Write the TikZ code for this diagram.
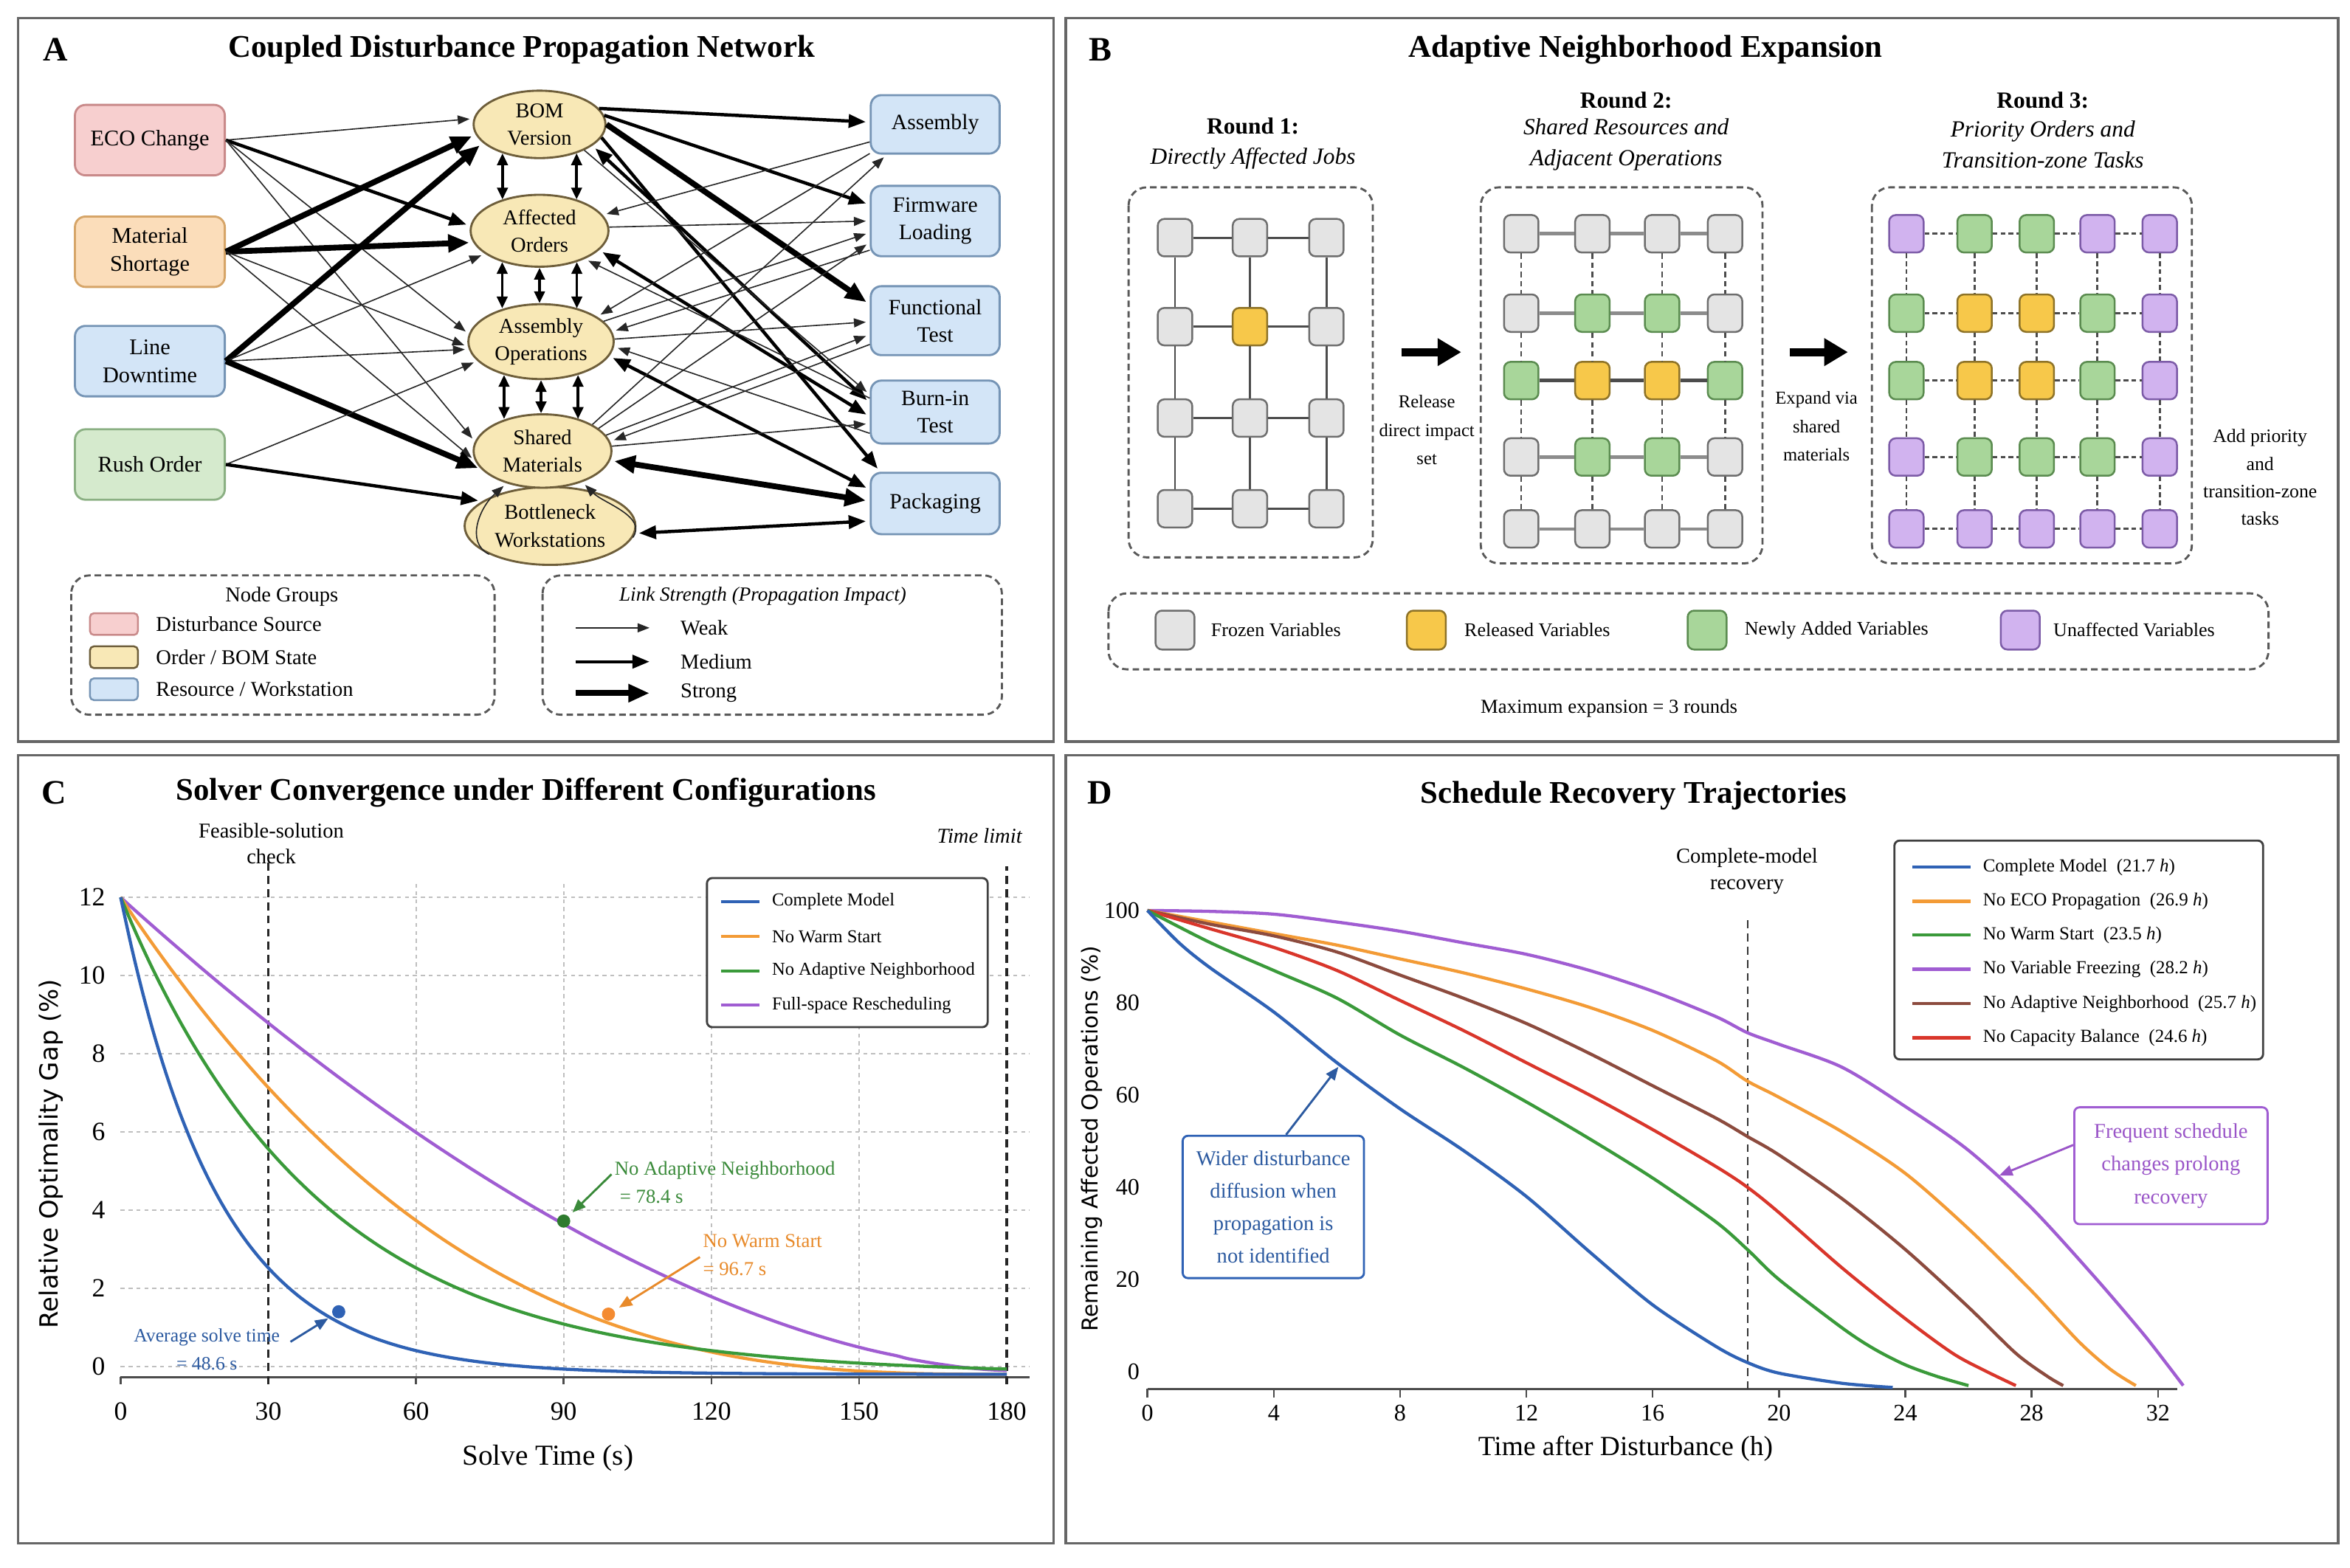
\documentclass[tikz,border=0pt]{standalone}
\usepackage{fontspec}
\setmainfont{Liberation Serif}
\newfontfamily\sansf{DejaVu Sans}
\usetikzlibrary{shapes.geometric,arrows.meta,calc}
\newcommand{\fsz}[2]{\fontsize{#1}{#2}\selectfont}
% panel A colours
\definecolor{ecoF}{HTML}{F7CFCF}\definecolor{ecoD}{HTML}{C98A8A}
\definecolor{matF}{HTML}{FBDDBA}\definecolor{matD}{HTML}{D6A568}
\definecolor{resF}{HTML}{D3E5F7}\definecolor{resD}{HTML}{7594B5}
\definecolor{rushF}{HTML}{D5EACD}\definecolor{rushD}{HTML}{8BB083}
\definecolor{ellF}{HTML}{F8E8B6}\definecolor{ellD}{HTML}{6E5E3A}
% panel B colours
\definecolor{fzF}{HTML}{E4E4E4}\definecolor{fzD}{HTML}{6E6E6E}
\definecolor{rlF}{HTML}{F7C84A}\definecolor{rlD}{HTML}{8E7328}
\definecolor{naF}{HTML}{A8D69A}\definecolor{naD}{HTML}{5B8C50}
\definecolor{uaF}{HTML}{D1B3EF}\definecolor{uaD}{HTML}{7D5CA8}
% plot colours
\definecolor{cBlue}{HTML}{2F62B5}\definecolor{cOrange}{HTML}{F39B36}
\definecolor{cGreen}{HTML}{3A9A3A}\definecolor{cPurple}{HTML}{A05DD2}
\definecolor{cBrown}{HTML}{8C4B3E}\definecolor{cRed}{HTML}{D9362B}
\definecolor{tBlue}{HTML}{2C5AA0}\definecolor{tGreen}{HTML}{3A8A3A}
\definecolor{tOrange}{HTML}{E88A2A}\definecolor{tPurple}{HTML}{9A55C8}
\tikzset{
 panel/.style={draw=black!60, line width=1pt},
 ptitle/.style={font=\fsz{12}{14}\bfseries},
 pletter/.style={font=\fsz{13}{15}\bfseries},
 srcbox/.style={draw=#1D, fill=#1F, rounded corners=4pt, line width=0.8pt, minimum width=2cm, minimum height=0.94cm, align=center, inner sep=1pt, font=\fsz{8.5}{10.6}},
 resbox/.style={draw=resD, fill=resF, rounded corners=4pt, line width=0.8pt, minimum width=1.72cm, align=center, inner sep=1pt, font=\fsz{8.3}{10.4}},
 stnode/.style={ellipse, draw=ellD, fill=ellF, line width=0.8pt, inner sep=0pt, align=center, font=\fsz{8}{10.4}},
 lkweak/.style={-{Triangle[length=4.5pt,width=3.4pt]}, line width=0.45pt, draw=black!85, shorten >=1.5pt},
 lkmed/.style={-{Triangle[length=6.5pt,width=5pt]}, line width=1.25pt, shorten >=1.5pt},
 lkstrong/.style={-{Triangle[length=8pt,width=6.5pt]}, line width=2.2pt, shorten >=1.5pt},
 lkmedd/.style={lkmed, {Triangle[length=6.5pt,width=5pt]}-{Triangle[length=6.5pt,width=5pt]}, shorten <=1.5pt},
 lkstrongd/.style={lkstrong, {Triangle[length=8pt,width=6.5pt]}-{Triangle[length=8pt,width=6.5pt]}, shorten <=1.5pt},
 vdbl/.style={{Triangle[length=4.5pt,width=4pt]}-{Triangle[length=4.5pt,width=4pt]}, line width=1pt},
 dashbox/.style={draw=black!65, line width=0.8pt, dash pattern=on 2.5pt off 1.5pt, rounded corners=7pt},
 legtxt/.style={font=\fsz{8}{9.6}, inner sep=1pt},
 vn/.style={draw=#1D, fill=#1F, rounded corners=2.5pt, line width=0.7pt, minimum width=0.46cm, minimum height=0.5cm, inner sep=0pt},
 rtitle/.style={font=\fsz{8.8}{10.5}\bfseries},
 rsub/.style={font=\fsz{8.8}{11.8}\itshape, align=center},
 smalltxt/.style={font=\fsz{6.9}{10.8}, align=center},
 btxt/.style={font=\fsz{7.3}{9}, inner sep=1pt},
 g1/.style={draw=black!70, line width=0.8pt},
 g2h/.style={draw=black!45, line width=1.3pt},
 g2v/.style={draw=black!70, line width=0.7pt, dash pattern=on 2pt off 1.5pt},
 g3/.style={draw=black!70, line width=0.8pt, dash pattern=on 1.8pt off 1.2pt},
 bigarr/.style={-{Triangle[length=9pt,width=10pt]}, line width=3.2pt},
 cgrid/.style={draw=black!25, line width=0.5pt, dash pattern=on 1.5pt off 1.5pt},
 ctick/.style={font=\fsz{10}{12}, inner sep=1pt},
 dtick/.style={font=\fsz{9}{11}, inner sep=1pt},
 cl/.style={line width=1.2pt, line join=round},
 dotn/.style={circle, inner sep=0pt, minimum size=5pt},
 legbox/.style={draw=black!75, line width=0.8pt, rounded corners=2pt, fill=white},
 legc/.style={font=\fsz{6.9}{8}, inner sep=1pt},
 annarrow/.style={-{Triangle[length=5pt,width=4pt]}, line width=0.8pt},
}
\newcommand{\gridrow}[4]{\foreach \xx/\vs [count=\c] in {#4} {\node[vn=\vs] (#1\c-#2) at (\xx,#3) {};}}
\begin{document}
\begin{tikzpicture}[x=0.02cm,y=-0.02cm]
\useasboundingbox (0,0) rectangle (1568,1046);
\fill[white] (0,0) rectangle (1568,1046);
\draw[panel] (12,12) rectangle (703,495);
\draw[panel] (711,12) rectangle (1560,495);
\draw[panel] (12,504) rectangle (703,1030);
\draw[panel] (711,504) rectangle (1560,1030);

%%%%%%%%%%%%%%%% PANEL A
\node[pletter] at (37,33) {A};
\node[ptitle] at (348,33) {Coupled Disturbance Propagation Network};
\node[srcbox=eco] (eco) at (100,93.5) {ECO Change};
\node[srcbox=mat] (mat) at (100,168) {Material\\Shortage};
\node[srcbox=res] (line) at (100,241) {Line\\Downtime};
\node[srcbox=rush] (rush) at (100,310) {Rush Order};
\node[stnode, minimum width=2.28cm, minimum height=1.04cm] (bot) at (367,351) {Bottleneck\\Workstations};
\node[stnode, minimum width=1.76cm, minimum height=0.9cm] (bom) at (360,83) {BOM\\Version};
\node[stnode, minimum width=1.84cm, minimum height=0.96cm] (aff) at (360,154) {Affected\\Orders};
\node[stnode, minimum width=1.94cm, minimum height=1.0cm] (asm) at (361,228) {Assembly\\Operations};
\node[stnode, minimum width=1.84cm, minimum height=0.98cm] (shr) at (362,301) {Shared\\Materials};
\node[resbox, minimum height=0.78cm] (assy) at (624,83) {Assembly};
\node[resbox, minimum height=0.94cm] (firm) at (624,147.5) {Firmware\\Loading};
\node[resbox, minimum height=0.92cm] (func) at (624,214) {Functional\\Test};
\node[resbox, minimum height=0.84cm] (burn) at (624,275) {Burn-in\\Test};
\node[resbox, minimum height=0.82cm] (pack) at (624,336) {Packaging};
% left -> middle
\draw[lkweak] (eco.east) -- (bom.175);
\draw[lkmed] (eco.east) -- (aff.176);
\draw[lkweak] (eco.east) -- (asm.174);
\draw[lkweak] (eco.east) -- (shr.172);
\draw[lkstrong] (mat.east) -- (bom.189);
\draw[lkstrong] (mat.east) -- (aff.190);
\draw[lkweak] (mat.east) -- (asm.184);
\draw[lkweak] (mat.east) -- (shr.188);
\draw[lkstrong] (line.east) -- (bom.198);
\draw[lkweak] (line.east) -- (aff.203);
\draw[lkweak] (line.east) -- (asm.186);
\draw[lkstrong] (line.east) -- (shr.197);
\draw[lkweak] (rush.east) -- (asm.197);
\draw[lkmed] (rush.east) -- (bot.160);
% vertical couplings
\draw[vdbl] (bom.218) -- (bom.218 |- aff.140);
\draw[vdbl] (bom.322) -- (bom.322 |- aff.40);
\draw[vdbl] (aff.220) -- (aff.220 |- asm.138);
\draw[vdbl] (aff.270) -- (aff.270 |- asm.90);
\draw[vdbl] (aff.320) -- (aff.320 |- asm.42);
\draw[vdbl] (asm.222) -- (asm.222 |- shr.139);
\draw[vdbl] (asm.270) -- (asm.270 |- shr.90);
\draw[vdbl] (asm.318) -- (asm.318 |- shr.41);
\draw[lkweak] (bot.205) .. controls +(-16,-8) and +(-18,16) .. (shr.222);
\draw[lkweak] (bot.-8) .. controls +(10,-14) and +(14,14) .. (shr.-38);
% middle -> right
\draw[lkmed] (bom.15) -- (assy.178);
\draw[lkmed] (bom.8) -- (firm.166);
\draw[lkstrong] (bom.0) -- (func.166);
\draw[lkmedd] (bom.-22) -- (burn.172);
\draw[lkmed] (bom.-12) -- (pack.150);
\draw[lkmedd] (aff.-18) -- (burn.184);
\draw[lkmedd] (asm.-12) -- (pack.168);
\draw[lkstrongd] (shr.-8) -- (pack.178);
\draw[lkmedd] (bot.-5) -- (pack.195);
\draw[lkweak] (assy.195) -- (aff.14);
\draw[lkweak] (assy.204) -- (asm.24);
\draw[lkweak] (shr.28) -- (assy.212);
\draw[lkweak] (aff.3) -- (firm.180);
\draw[lkweak] (asm.18) -- (firm.190);
\draw[lkweak] (shr.22) -- (firm.198);
\draw[lkweak] (firm.204) -- (asm.8);
\draw[lkweak] (asm.2) -- (func.181);
\draw[lkweak] (shr.14) -- (func.192);
\draw[lkweak] (func.200) -- (shr.8);
\draw[lkweak] (bom.-30) -- (burn.165);
\draw[lkweak] (shr.4) -- (burn.190);
\draw[lkweak] (burn.198) -- (asm.-4);
\draw[lkweak] (burn.168) -- (aff.-32);
% legends
\draw[dashbox] (47.5,384) rectangle (330,477);
\node[legtxt] at (188,398) {Node Groups};
\node[draw=ecoD, fill=ecoF, rounded corners=1.5pt, line width=0.7pt, minimum width=0.64cm, minimum height=0.29cm] (lgA) at (76,416.5) {};
\node[draw=ellD, fill=ellF, rounded corners=1.5pt, line width=0.7pt, minimum width=0.64cm, minimum height=0.29cm] (lgB) at (76,438.6) {};
\node[draw=resD, fill=resF, rounded corners=1.5pt, line width=0.7pt, minimum width=0.64cm, minimum height=0.29cm] (lgC) at (76,460) {};
\node[legtxt, anchor=west] at (102,416.5) {Disturbance Source};
\node[legtxt, anchor=west] at (102,438.6) {Order / BOM State};
\node[legtxt, anchor=west] at (102,460) {Resource / Workstation};
\draw[dashbox] (362,384) rectangle (668.5,477);
\node[font=\fsz{7.6}{9}\itshape] at (509,398) {Link Strength (Propagation Impact)};
\coordinate (lwa) at (384,419); \coordinate (lwb) at (436,419);
\coordinate (lma) at (384,441.6); \coordinate (lmb) at (436,441.6);
\coordinate (lsa) at (384,462.6); \coordinate (lsb) at (436,462.6);
\draw[lkweak] (lwa) -- (lwb);
\draw[lkmed] (lma) -- (lmb);
\draw[lkstrong] (lsa) -- (lsb);
\node[legtxt, anchor=west] at (452,419) {Weak};
\node[legtxt, anchor=west] at (452,441.6) {Medium};
\node[legtxt, anchor=west] at (452,462.6) {Strong};

%%%%%%%%%%%%%%%% PANEL B
\node[pletter] at (734,33) {B};
\node[ptitle] at (1098,33) {Adaptive Neighborhood Expansion};
\node[rtitle] at (836,84) {Round 1:};
\node[rsub] at (836,106) {Directly Affected Jobs};
\node[rtitle] at (1085,67) {Round 2:};
\node[rsub] at (1085,96.5) {Shared Resources and\\Adjacent Operations};
\node[rtitle] at (1363,67) {Round 3:};
\node[rsub] at (1363,96.5) {Priority Orders and\\Transition-zone Tasks};
\draw[dashbox] (753,125) rectangle (916,372);
\draw[dashbox] (988,125) rectangle (1176,376);
\draw[dashbox] (1249,125) rectangle (1462.5,376);
% round 1
\gridrow{p}{1}{158.6}{784/fz,834/fz,885/fz}
\gridrow{p}{2}{218}{784/fz,834/rl,885/fz}
\gridrow{p}{3}{279}{784/fz,834/fz,885/fz}
\gridrow{p}{4}{339.5}{784/fz,834/fz,885/fz}
\foreach \r in {1,...,4}{\draw[g1] (p1-\r) -- (p2-\r) -- (p3-\r);}
\foreach \c in {1,2,3}{\draw[g1] (p\c-1) -- (p\c-2) -- (p\c-3) -- (p\c-4);}
% round 2
\gridrow{q}{1}{156}{1015/fz,1062.5/fz,1109/fz,1151/fz}
\gridrow{q}{2}{209}{1015/fz,1062.5/na,1109/na,1151/fz}
\gridrow{q}{3}{254}{1015/na,1062.5/rl,1109/rl,1151/na}
\gridrow{q}{4}{305}{1015/fz,1062.5/na,1109/na,1151/fz}
\gridrow{q}{5}{353}{1015/fz,1062.5/fz,1109/fz,1151/fz}
\foreach \r in {1,2,4,5}{\draw[g2h] (q1-\r) -- (q2-\r) -- (q3-\r) -- (q4-\r);}
\draw[g2h, draw=black!70] (q1-3) -- (q2-3) -- (q3-3) -- (q4-3);
\foreach \c in {1,...,4}{\draw[g2v] (q\c-1) -- (q\c-2) -- (q\c-3) -- (q\c-4) -- (q\c-5);}
% round 3
\gridrow{s}{1}{156}{1272/ua,1317.5/na,1359/na,1399.5/ua,1441/ua}
\gridrow{s}{2}{209}{1272/na,1317.5/rl,1359/rl,1399.5/na,1441/ua}
\gridrow{s}{3}{254}{1272/na,1317.5/rl,1359/rl,1399.5/na,1441/ua}
\gridrow{s}{4}{305}{1272/ua,1317.5/na,1359/na,1399.5/na,1441/ua}
\gridrow{s}{5}{353}{1272/ua,1317.5/ua,1359/ua,1399.5/ua,1441/ua}
\foreach \r in {1,...,5}{\draw[g3] (s1-\r) -- (s2-\r) -- (s3-\r) -- (s4-\r) -- (s5-\r);}
\foreach \c in {1,...,5}{\draw[g3] (s\c-1) -- (s\c-2) -- (s\c-3) -- (s\c-4) -- (s\c-5);}
% arrows between rounds
\coordinate (ra1) at (935,235); \coordinate (ra2) at (975,235);
\coordinate (rb1) at (1194,235); \coordinate (rb2) at (1233,235);
\draw[bigarr] (ra1) -- (ra2);
\draw[bigarr] (rb1) -- (rb2);
\node[smalltxt] at (952,287) {Release\\direct impact\\set};
\node[smalltxt] at (1212,284.5) {Expand via\\shared\\materials};
\node[font=\fsz{7.2}{10.4}, align=center] at (1508,318.5) {Add priority\\and\\transition-zone\\tasks};
% legend
\draw[dashbox] (739.6,396) rectangle (1513.6,446.7);
\node[vn=fz, minimum size=0.52cm] (lfz) at (784,420.5) {};
\node[vn=rl, minimum size=0.52cm] (lrl) at (951.7,420.5) {};
\node[vn=na, minimum size=0.52cm] (lna) at (1139,420.5) {};
\node[vn=ua, minimum size=0.52cm] (lua) at (1348,420.5) {};
\node[btxt, anchor=west] at (806,420.5) {Frozen Variables};
\node[btxt, anchor=west] at (975,420.5) {Released Variables};
\node[btxt, anchor=west] at (1162,420.5) {Newly Added Variables};
\node[btxt, anchor=west] at (1368,420.5) {Unaffected Variables};
\node[font=\fsz{7.5}{9}] at (1073.6,472.7) {Maximum expansion = 3 rounds};

%%%%%%%%%%%%%%%% PANEL C
\node[pletter] at (36,529) {C};
\node[ptitle] at (351,529) {Solver Convergence under Different Configurations};
\node[font=\fsz{8}{10}, align=center] at (181,563) {Feasible-solution\\check};
\node[font=\fsz{8}{10}\itshape] at (653.6,557.6) {Time limit};
\node[rotate=90, font=\sansf\fsz{9.5}{11}] at (34,770) {Relative Optimality Gap (\%)};
\node[font=\fsz{11}{13}] at (365.5,973) {Solve Time (s)};
\begin{scope}[shift={(80.5,912)}, x=0.06571cm, y=0.522cm]
 \foreach \v in {2,4,...,12}{\draw[cgrid] (0,\v) -- (184.7,\v);}
 \draw[cgrid] (0,0) -- (184.7,0);
 \foreach \tv in {60,90,...,150}{\draw[cgrid] (\tv,-0.27) -- (\tv,12.35);}
 \draw[black!70, line width=0.9pt] (0,-0.27) -- (184.7,-0.27);
 \foreach \tv in {0,30,...,180}{\draw[black!70, line width=0.7pt] (\tv,-0.27) -- (\tv,-0.45); \node[ctick] at (\tv,-1.15) {\tv};}
 \foreach \v in {0,2,...,12}{\node[ctick, anchor=east] at (-2.5,\v) {\v};}
 \draw[black!85, line width=0.8pt, dash pattern=on 3pt off 2pt] (30,-0.45) -- (30,12.95);
 \draw[black!85, line width=1.1pt, dash pattern=on 3pt off 2pt] (180,-0.45) -- (180,12.8);
 \draw[cl, cPurple, domain=0:180, samples=90, smooth] plot (\x, {12.1*(1-\x/180.5)^1.7-0.1});
 \draw[cl, cOrange, domain=0:180, samples=90, smooth] plot (\x, {12.2*(1-\x/180.5)^2.8-0.2});
 \draw[cl, cGreen, domain=0:180, samples=90, smooth] plot (\x, {12.2*exp(-\x/40)-0.2});
 \draw[cl, cBlue, domain=0:180, samples=90, smooth] plot (\x, {12.2*exp(-\x/20)-0.2});
 \node[dotn, fill=cBlue] (bdot) at (44.3,1.40) {};
 \node[dotn, fill=cGreen!80!black] (gdot) at (90,3.72) {};
 \node[dotn, fill=cOrange!90!red] (odot) at (99.1,1.34) {};
\end{scope}
\draw[legbox] (471.7,586) rectangle (659,685.5);
\foreach \yy/\lc/\lt in {601.8/cBlue/Complete Model, 625/cOrange/No Warm Start, 648/cGreen/No Adaptive Neighborhood, 670.8/cPurple/Full-space Rescheduling}{
 \draw[draw=\lc, line width=1.3pt] (481,\yy) -- (506.5,\yy);
 \node[legc, anchor=west] at (513,\yy) {\lt};}
\node[text=tBlue, align=center, font=\fsz{7.2}{10.8}, inner sep=1pt] (avg) at (138,900.5) {Average solve time\\= 48.6 s};
\node[text=tGreen, align=left, anchor=west, font=\fsz{7.5}{10.8}, inner sep=1pt] (gann) at (408,789) {No Adaptive Neighborhood\\\hspace{2pt}= 78.4 s};
\node[text=tOrange, align=left, anchor=west, font=\fsz{7.5}{10.8}, inner sep=1pt] (oann) at (467,837.5) {No Warm Start\\= 96.7 s};
\draw[annarrow, tBlue, shorten >=2pt] ($(avg.east)+(5,-5)$) -- (bdot);
\draw[annarrow, tGreen, shorten >=2pt] (gann.176) -- (gdot);
\draw[annarrow, tOrange, shorten >=2pt] (oann.182) -- (odot);

%%%%%%%%%%%%%%%% PANEL D
\node[pletter] at (734,529) {D};
\node[ptitle] at (1090,531) {Schedule Recovery Trajectories};
\node[font=\fsz{8}{10}, align=center] at (1165.6,581.5) {Complete-model\\recovery};
\node[rotate=90, font=\sansf\fsz{8.3}{10}] at (728.5,760) {Remaining Affected Operations (\%)};
\node[font=\fsz{10.5}{12}] at (1084.6,967) {Time after Disturbance (h)};
\begin{scope}[shift={(765.6,915.5)}, x=0.4215cm, y=0.06158cm]
 \draw[black!70, line width=0.9pt] (0,-3.73) -- (32.6,-3.73);
 \foreach \tv in {0,4,...,32}{\draw[black!70, line width=0.7pt] (\tv,-3.73) -- (\tv,-5.6); \node[dtick] at (\tv,-9) {\tv};}
 \foreach \v in {0,20,...,100}{\node[dtick, anchor=east] at (-0.15,\v) {\v};}
 \draw[black!80, line width=0.6pt, dash pattern=on 3pt off 2pt] (19,-3.73) -- (19,98.9);
 \draw[cl, cPurple] plot[smooth, tension=0.5] coordinates {(0,100) (2,99.8) (4,99.2) (6,97.5) (8,95.5) (10,93) (12,90.5) (14,87) (16,82.5) (18,77) (19,73.5) (20,71) (22,66) (24,57.5) (26,48) (28,35.5) (30,20.5) (31.5,8.5) (32.3,1.5) (32.8,-3)};
 \draw[cl, cOrange] plot[smooth, tension=0.5] coordinates {(0,100) (2,97.5) (4,95) (6,92.5) (8,89.5) (10,86.5) (12,83) (14,79) (16,74) (18,67.5) (19,63) (20,59.5) (22,52) (24,43) (26,31) (28,17.5) (29.5,6.5) (30.5,0.5) (31.3,-3)};
 \draw[cl, cBrown] plot[smooth, tension=0.5] coordinates {(0,100) (2,97) (4,94.5) (6,91) (8,86) (10,81) (12,75.5) (14,69) (16,62) (18,55) (19,51) (20,47) (22,37.5) (24,26.5) (26,14) (27.5,4) (28.5,-1) (29,-3)};
 \draw[cl, cRed] plot[smooth, tension=0.5] coordinates {(0,100) (2,96) (4,92) (6,87) (8,80.5) (10,74) (12,67) (14,60) (16,52.5) (18,44.5) (19,40) (20,34.5) (22,22.5) (24,11.5) (25.5,4) (26.5,0.3) (27.5,-3)};
 \draw[cl, cGreen] plot[smooth, tension=0.5] coordinates {(0,100) (2,93) (4,87) (6,81) (8,73) (10,66) (12,58.5) (14,50.5) (16,42) (18,32.5) (19,26.5) (20,20) (22,9.5) (23,5) (24,1.5) (25,-1) (26,-3)};
 \draw[cl, cBlue] plot[smooth, tension=0.5] coordinates {(0,100) (1,93) (2,87.5) (4,78) (6,67) (8,57) (10,48) (12,38) (14,26) (16,14.5) (18,5.5) (19,2) (20,-0.3) (22,-2.5) (23.6,-3.4)};
\end{scope}
\draw[legbox] (1264,561) rectangle (1510,707);
\foreach \yy/\lc/\lt in {578.7/cBlue/Complete Model~ (21.7 \textit{h}), 601.5/cOrange/No ECO Propagation~ (26.9 \textit{h}), 624/cGreen/No Warm Start~ (23.5 \textit{h}), 646.8/cPurple/No Variable Freezing~ (28.2 \textit{h}), 669.8/cBrown/No Adaptive Neighborhood~ (25.7 \textit{h}), 692.5/cRed/No Capacity Balance~ (24.6 \textit{h})}{
 \draw[draw=\lc, line width=1.3pt] (1276,\yy) -- (1315,\yy);
 \node[font=\fsz{7}{8.4}, inner sep=1pt, anchor=west] at (1321,\yy) {\lt};}
\node[draw=cBlue, rounded corners=2pt, line width=0.8pt, align=center, text=tBlue, font=\fsz{8}{12.3}, minimum width=2.42cm, minimum height=1.9cm, inner sep=1pt] (wbox) at (849.6,805.5) {Wider disturbance\\diffusion when\\propagation is\\not identified};
\node[draw=cPurple, rounded corners=2pt, line width=0.8pt, align=center, text=tPurple, font=\fsz{8}{12.5}, minimum width=2.58cm, minimum height=1.56cm, inner sep=1pt] (pbox) at (1448.5,778) {Frequent schedule\\changes prolong\\recovery};
\coordinate (bpt) at (893,712);
\coordinate (ppt) at (1334,784.5);
\draw[annarrow, tBlue] (wbox.80) -- (bpt);
\draw[annarrow, tPurple] (pbox.168) -- (ppt);
\end{tikzpicture}
\end{document}
